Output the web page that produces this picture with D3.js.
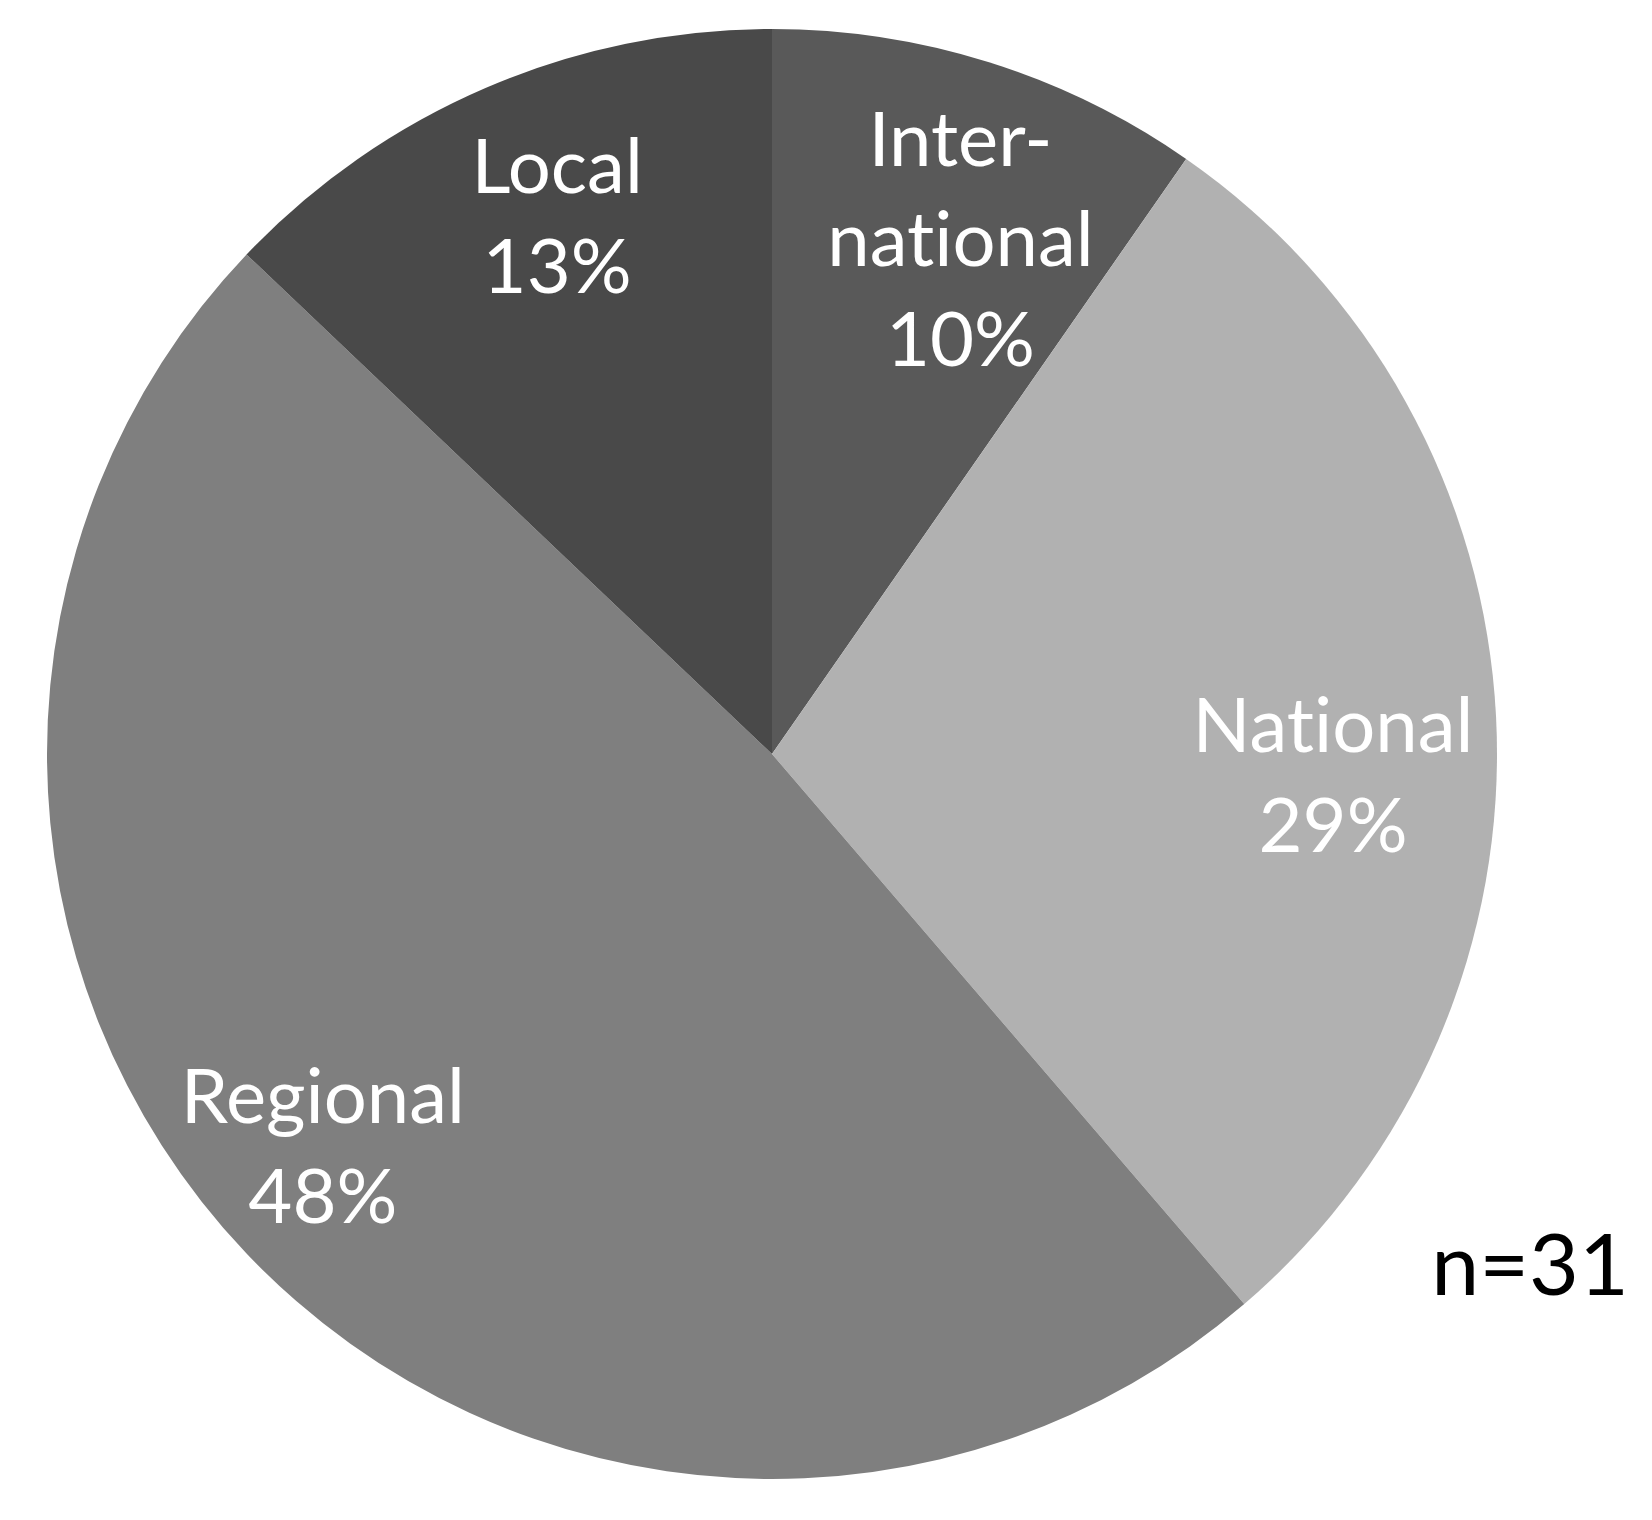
<!DOCTYPE html>
<html>
<head>
<meta charset="utf-8">
<script src="https://cdn.jsdelivr.net/npm/d3@7"></script>
<style>
  html, body { margin: 0; padding: 0; background: #fff; }
  svg { display: block; }
  text { font-variant-ligatures: none; font-feature-settings: "liga" 0; }
</style>
</head>
<body>
<div id="chart"></div>
<script>
// données
const categories = ["International", "National", "Regional", "Local"];
const labelLines = [["Inter-", "national"], ["National"], ["Regional"], ["Local"]];
const counts = [3, 9, 15, 4];
const colors = ["#595959", "#b1b1b1", "#7f7f7f", "#494949"];
const sampleNote = "n=31";

const width = 1652, height = 1520;
const cx = 772, cy = 754, radius = 725;
const fontSize = 76, lineH = 100;
// petits décalages des étiquettes (placement "best fit" d'Excel)
const labelNudge = [[17, 31], [-11, 50], [-34, -3], [11, -12]];

const svg = d3.select("#chart").append("svg")
    .attr("width", width)
    .attr("height", height);

const total = d3.sum(counts);
const pie = d3.pie().sort(null).value(d => d)(counts);

const arc = d3.arc().innerRadius(0).outerRadius(radius);
const labelArc = d3.arc().innerRadius(radius * 0.79).outerRadius(radius * 0.79);

const g = svg.append("g").attr("transform", `translate(${cx},${cy})`);

g.selectAll("path")
    .data(pie)
    .join("path")
    .attr("d", arc)
    .attr("fill", (d, i) => colors[i]);

// étiquettes : nom + pourcentage
pie.forEach((d, i) => {
    let [x, y] = labelArc.centroid(d);
    x += labelNudge[i][0];
    y += labelNudge[i][1];
    const lines = labelLines[i].concat([Math.round(counts[i] / total * 100) + "%"]);
    const firstBase = y - (lines.length - 1) * lineH / 2 + fontSize * 0.36;
    const t = g.append("text")
        .attr("text-anchor", "middle")
        .attr("font-family", "Lato, 'Open Sans', sans-serif")
        .attr("font-size", fontSize)
        .attr("fill", "#fff");
    lines.forEach((s, k) => {
        t.append("tspan").attr("x", x).attr("y", firstBase + k * lineH).text(s);
    });
});

svg.append("text")
    .attr("x", 1530)
    .attr("y", 1295)
    .attr("text-anchor", "middle")
    .attr("font-family", "Lato, 'Open Sans', sans-serif")
    .attr("font-size", 86)
    .attr("fill", "#000")
    .text(sampleNote);
</script>
</body>
</html>
